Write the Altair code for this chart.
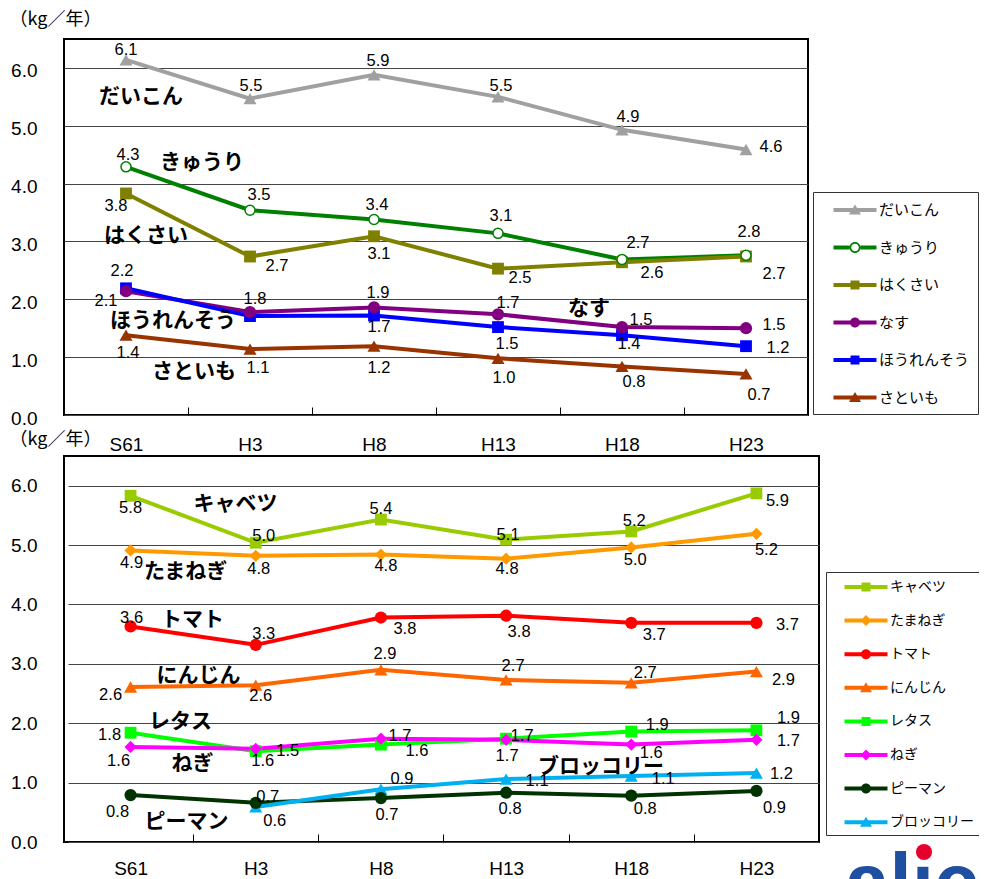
import altair as alt
import pandas as pd

# ---------------- data ----------------
CATS = ["S61", "H3", "H8", "H13", "H18", "H23"]

TOP_SERIES = ["だいこん", "きゅうり", "はくさい", "なす", "ほうれんそう", "さといも"]
TOP_VALUES = {
    "だいこん": [6.14, 5.47, 5.88, 5.50, 4.93, 4.59],
    "きゅうり": [4.29, 3.54, 3.38, 3.14, 2.69, 2.76],
    "はくさい": [3.83, 2.74, 3.09, 2.53, 2.64, 2.74],
    "なす": [2.14, 1.78, 1.86, 1.74, 1.52, 1.50],
    "ほうれんそう": [2.19, 1.71, 1.72, 1.52, 1.38, 1.19],
    "さといも": [1.38, 1.14, 1.19, 0.98, 0.84, 0.71],
}

BOT_SERIES = ["キャベツ", "たまねぎ", "トマト", "にんじん", "レタス", "ねぎ", "ピーマン", "ブロッコリー"]
BOT_VALUES = {
    "キャベツ": [5.83, 5.04, 5.43, 5.09, 5.23, 5.87],
    "たまねぎ": [4.91, 4.82, 4.84, 4.77, 4.96, 5.19],
    "トマト": [3.63, 3.32, 3.78, 3.81, 3.69, 3.69],
    "にんじん": [2.61, 2.64, 2.90, 2.73, 2.68, 2.87],
    "レタス": [1.84, 1.53, 1.64, 1.74, 1.86, 1.88],
    "ねぎ": [1.60, 1.57, 1.74, 1.72, 1.64, 1.72],
    "ピーマン": [0.79, 0.66, 0.74, 0.83, 0.78, 0.86],
    "ブロッコリー": [None, 0.59, 0.89, 1.06, 1.11, 1.16],
}

Y_TICKS = [0, 1, 2, 3, 4, 5, 6]
UNIT = "（kg／年）"

# ---------------- styles ----------------
TOP_COLORS = ["#A0A0A0", "#008000", "#808000", "#800080", "#0000FF", "#993300"]
TOP_MARKERS = ["triangle", "open", "square", "circle", "square", "triangle"]
BOT_COLORS = ["#99CC00", "#FF9900", "#FF0000", "#FF6600", "#00FF00", "#FF00FF", "#003300", "#00B0F0"]
BOT_MARKERS = ["square", "diamond", "circle", "triangle", "square", "diamond", "circle", "triangle"]

# label placement (pixel offsets from each point; None = no label)
TOP_LABEL_OFFSETS = {
    "だいこん": [(0, -10), (1, -13), (4, -14), (3, -11), (6, -13), (25, -2)],
    "きゅうり": [(2, -12), (9, -15), (3, -14), (3, -17), (16, -16), (3, -23)],
    "はくさい": [(-10, 13), (27, 9), (5, 18), (22, 9), (30, 11), (28, 17)],
    "なす": [(-20, 10), (5, -13), (4, -14), (10, -11), (19, -7), (28, -3)],
    "ほうれんそう": [(-4, -17), None, (5, 11), (9, 17), (7, 9), (32, 2)],
    "さといも": [(2, 18), (8, 19), (5, 22), (6, 20), (12, 16), (13, 21)],
}
BOT_LABEL_OFFSETS = {
    "キャベツ": [(0, 12), (8, -7), (0, -11), (2, -5), (3, -10), (21, 8)],
    "たまねぎ": [(1, 13), (3, 13), (5, 11), (1, 10), (4, 13), (10, 16)],
    "トマト": [(1, -8), (8, -11), (24, 11), (13, 16), (23, 12), (31, 2)],
    "にんじん": [(-20, 8), (5, 11), (4, -16), (7, -14), (14, -10), (27, 8)],
    "レタス": [(-21, 2), (32, 0), (36, 6), (16, -3), (26, -7), (32, -12)],
    "ねぎ": [(-12, 14), (7, 12), (19, -3), (1, 16), (20, 8), (32, 1)],
    "ピーマン": [(-13, 17), (12, -6), (6, 17), (4, 16), (14, 13), (18, 17)],
    "ブロッコリー": [None, (19, 14), (21, -10), (31, 2), (32, 3), (25, 1)],
}

# in-plot series name annotations: (text, category, y value, x pixel offset)
TOP_NOTES = [
    ("だいこん", "S61", 5.50, 15),
    ("きゅうり", "S61", 4.36, 76),
    ("はくさい", "S61", 3.09, 20),
    ("ほうれんそう", "S61", 1.62, 47),
    ("さといも", "S61", 0.74, 68),
    ("なす", "H13", 1.83, 91),
]
BOT_NOTES = [
    ("キャベツ", "S61", 5.70, 105),
    ("たまねぎ", "S61", 4.55, 55),
    ("トマト", "S61", 3.73, 62),
    ("にんじん", "S61", 2.80, 68),
    ("レタス", "S61", 2.02, 50),
    ("ねぎ", "S61", 1.32, 62),
    ("ピーマン", "S61", 0.34, 56),
    ("ブロッコリー", "H13", 1.26, 95),
]

LINE = "M-2.15,-0.2H2.15V0.2H-2.15Z"
LEGEND_PATHS = {
    "triangle": LINE + " M0,-0.55L0.6,0.45H-0.6Z",
    "square": LINE + " M-0.45,-0.45H0.45V0.45H-0.45Z",
    "circle": LINE + " M0.5,0A0.5,0.5 0 1,1 -0.5,0A0.5,0.5 0 1,1 0.5,0Z",
    "diamond": LINE + " M0,-0.55L0.55,0L0,0.55L-0.55,0Z",
    "open": "M-2.15,-0.2H-0.55V0.2H-2.15Z M0.55,-0.2H2.15V0.2H0.55Z "
            "M0.55,0A0.55,0.55 0 1,1 -0.55,0A0.55,0.55 0 1,1 0.55,0Z "
            "M0.38,0A0.38,0.38 0 1,0 -0.38,0A0.38,0.38 0 1,0 0.38,0Z",
}
MARKER_MARKS = {
    "triangle": dict(shape="triangle-up", size=170, filled=True),
    "square": dict(shape="square", size=140, filled=True),
    "circle": dict(shape="circle", size=150, filled=True),
    "diamond": dict(shape="diamond", size=150, filled=True),
    "open": dict(shape="circle", size=100, filled=False, fill="white", strokeWidth=1.5),
}

JP = "Noto Sans CJK JP"
NUM = "Liberation Sans"
YMAX = 6.5


def build_df(series, values, offsets):
    rows = []
    for s in series:
        for i, (c, v) in enumerate(zip(CATS, values[s])):
            if v is None:
                continue
            off = offsets[s][i]
            rows.append(dict(cat=c, xi=i, series=s, value=v, label=f"{v:.1f}",
                             show=off is not None,
                             dx=off[0] if off else 0, dy=off[1] if off else 0))
    return pd.DataFrame(rows)


def panel(series, values, colors, markers, offsets, notes, width, height, xrange,
          ylab_offset, xlab_pad, title_y, leg, extra=()):
    df = build_df(series, values, offsets)
    step = (xrange[1] - xrange[0]) / len(CATS)
    X = alt.X("cat:N", scale=alt.Scale(type="point", domain=CATS, padding=0.5, range=list(xrange)),
              axis=alt.Axis(title=None, domain=False, ticks=True, tickSize=8, tickColor="black",
                            tickWidth=1, offset=-8, tickOffset=step / 2, labelOffset=-step / 2,
                            labelPadding=xlab_pad, labelFont=NUM, labelFontSize=19,
                            labelColor="black", labelAngle=0, grid=False))
    yscale = alt.Scale(domain=[0, YMAX], nice=False)
    yaxis = alt.Axis(title=UNIT, titleAngle=0, titleAlign="left", titleBaseline="middle",
                     titleX=-55, titleY=title_y, titleFont=JP, titleFontSize=18,
                     titleFontWeight="normal", titleColor="black",
                     values=Y_TICKS, format=".1f", labelFont=NUM, labelFontSize=19,
                     labelColor="black", labelPadding=27, labelOffset=ylab_offset,
                     ticks=False, domain=False, grid=True, gridColor="#444444", gridWidth=1)
    Y = alt.Y("value:Q", scale=yscale, axis=yaxis)
    YL = alt.Y("ly:Q", scale=yscale, axis=yaxis)
    cscale = alt.Scale(domain=series, range=colors)
    base = alt.Chart(df)
    legend = alt.Legend(title=None, orient="none", legendX=leg["x"], legendY=leg["y"],
                        padding=leg["pad"], symbolOffset=leg["symoff"], labelOffset=leg["laboff"],
                        rowPadding=leg["rowpad"], symbolSize=400, symbolStrokeWidth=0,
                        symbolOpacity=1,
                        labelFont=JP, labelFontSize=leg["fs"], labelColor="black",
                        strokeColor="#333333", fillColor="white", labelLimit=300)
    paths = [LEGEND_PATHS[m] for m in markers]
    # legend-only layer (invisible in the plot)
    layers = [base.mark_point(filled=True, opacity=0).encode(
        x=X, y=Y,
        color=alt.Color("series:N", scale=cscale, legend=legend),
        shape=alt.Shape("series:N", scale=alt.Scale(domain=series, range=paths), legend=legend))]
    layers.append(base.mark_line(strokeWidth=4).encode(
        x=X, y=Y, stroke=alt.Stroke("series:N", scale=cscale, legend=None), order=alt.Order("xi:Q")))
    for mt, props in MARKER_MARKS.items():
        names = [s for s, m in zip(series, markers) if m == mt]
        if not names:
            continue
        ch = base.transform_filter(alt.FieldOneOfPredicate(field="series", oneOf=names)).mark_point(
            opacity=1, **props)
        if props["filled"]:
            ch = ch.encode(x=X, y=Y, fill=alt.Fill("series:N", scale=cscale, legend=None))
        else:
            ch = ch.encode(x=X, y=Y, stroke=alt.Stroke("series:N", scale=cscale, legend=None))
        layers.append(ch)
    px = YMAX / height
    layers.append(base.transform_filter("datum.show").transform_calculate(
        ly=f"datum.value - datum.dy * {px}").mark_text(
        font=NUM, fontSize=16.5, color="black").encode(
        x=X, y=YL, xOffset=alt.XOffset("dx:Q", scale=None), text="label:N"))
    ndf = pd.DataFrame(notes, columns=["text", "cat", "value", "dx"])
    layers.append(alt.Chart(ndf).mark_text(font=JP, fontWeight="bold", fontSize=21, color="black").encode(
        x=X, y=Y, xOffset=alt.XOffset("dx:Q", scale=None), text="text:N"))
    layers.extend(extra)
    return alt.layer(*layers).properties(width=width, height=height)


logo_df = pd.DataFrame({"t": ["alıc"]})
logo = [
    alt.Chart(logo_df).mark_text(font=NUM, fontWeight="bold", fontSize=80, color="#1F4FA0",
                                 align="left", baseline="alphabetic").encode(
        x=alt.value(781), y=alt.value(453), text="t:N"),
    alt.Chart(logo_df).mark_point(filled=True, shape="circle", size=260, color="#E8002C",
                                  opacity=1).encode(x=alt.value(860), y=alt.value(396)),
]

top = panel(TOP_SERIES, TOP_VALUES, TOP_COLORS, TOP_MARKERS, TOP_LABEL_OFFSETS, TOP_NOTES,
            744, 376, (0, 744), 3, 20, -20,
            dict(x=749, y=153, pad=8, symoff=24, laboff=14, rowpad=19.5, fs=15))
bottom = panel(BOT_SERIES, BOT_VALUES, BOT_COLORS, BOT_MARKERS, BOT_LABEL_OFFSETS, BOT_NOTES,
               755, 386, (4, 755), 0, 17, -17,
               dict(x=762, y=116, pad=5, symoff=25, laboff=14, rowpad=16.6, fs=14), extra=logo)

chart = alt.vconcat(top, bottom, spacing=41, bounds="flush").resolve_scale(
    color="independent", shape="independent", fill="independent", stroke="independent").resolve_legend(
    color="independent", shape="independent").properties(
    padding={"left": 0, "top": 1, "right": -2, "bottom": 0}).configure_view(
    stroke="black", strokeWidth=2)

chart.save("out.html", embed_options={"renderer": "svg", "actions": False})
